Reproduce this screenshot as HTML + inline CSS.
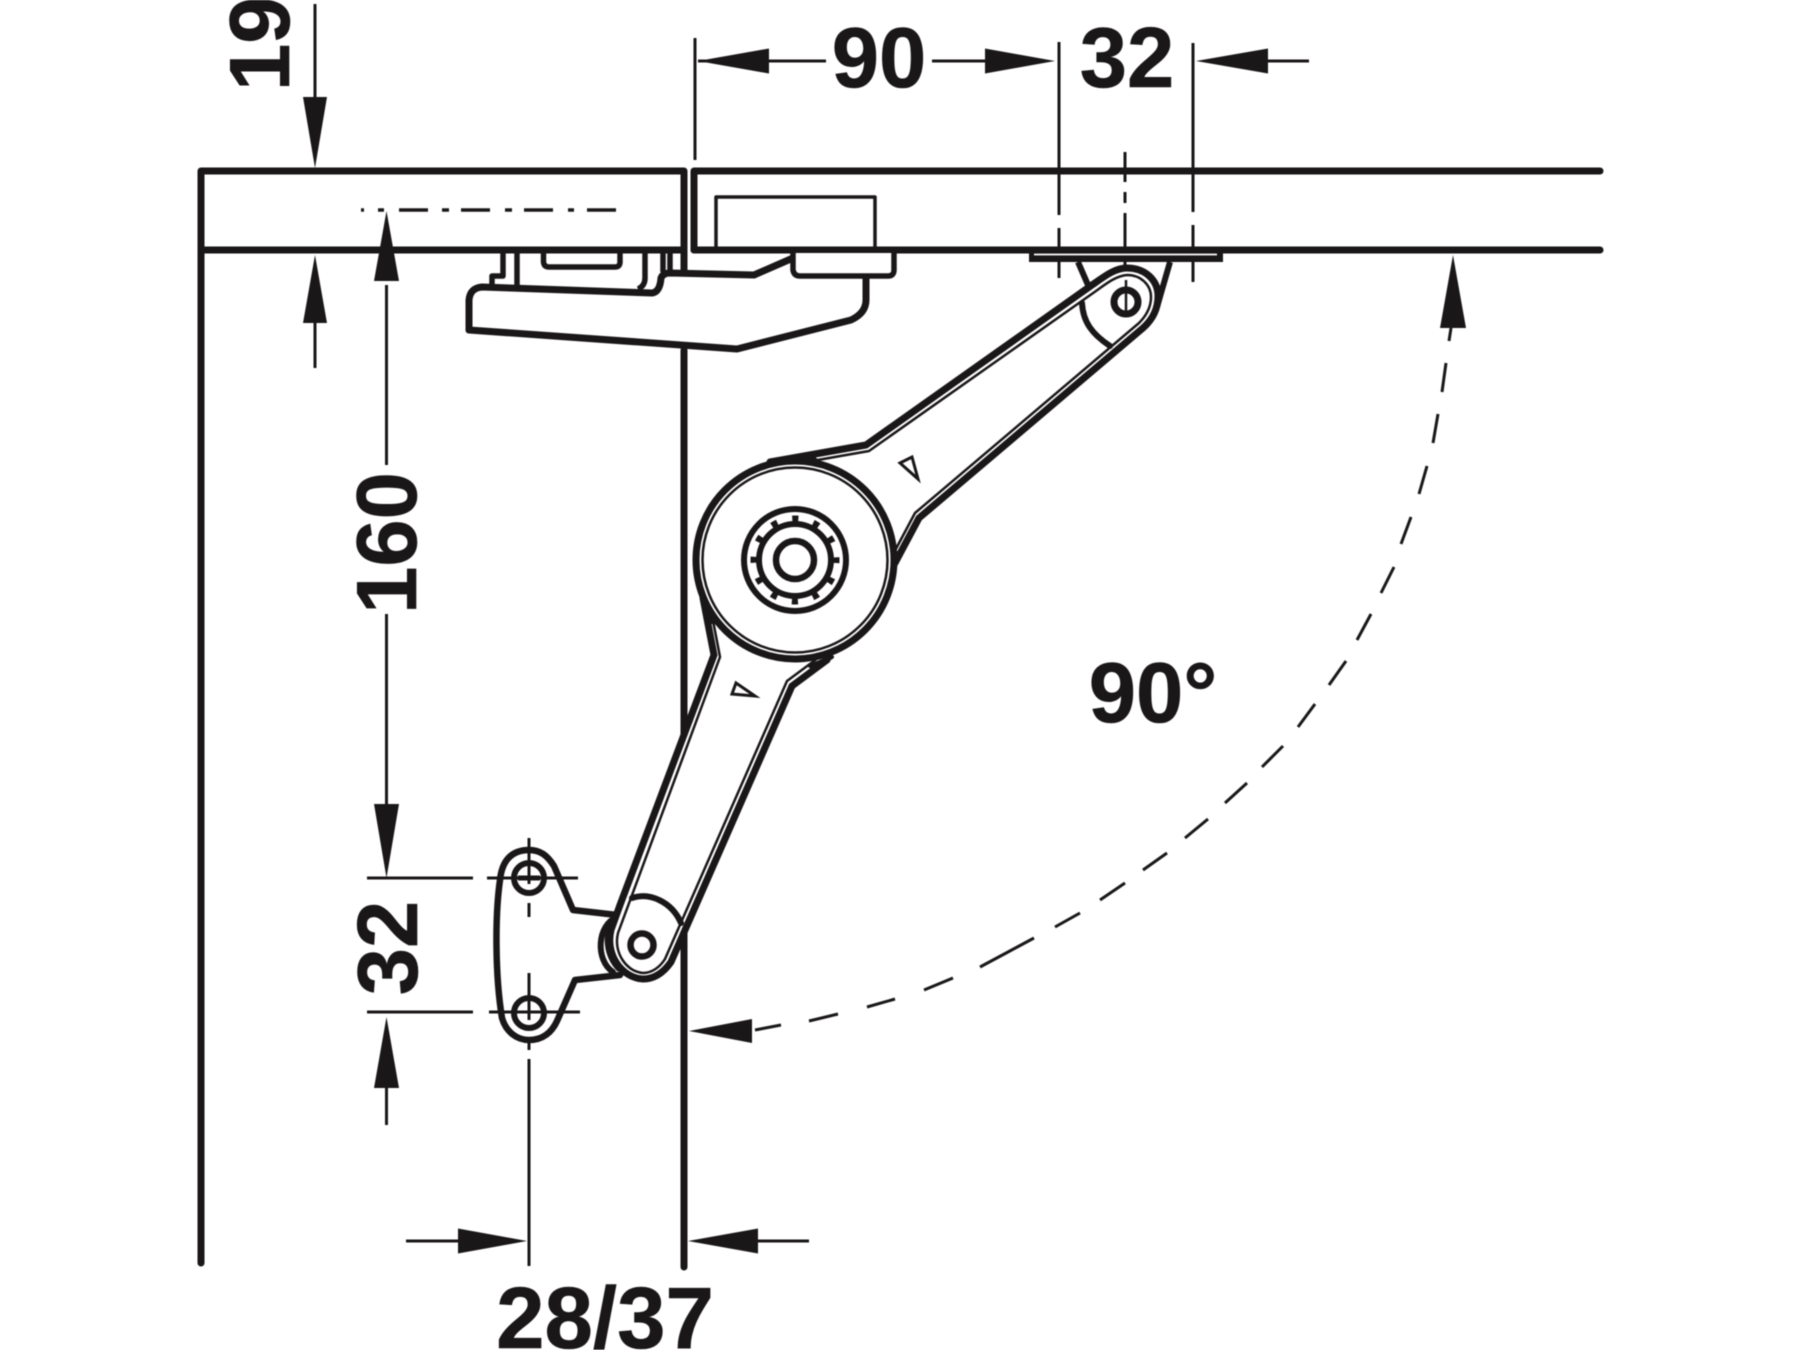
<!DOCTYPE html>
<html><head><meta charset="utf-8"><style>
html,body{margin:0;padding:0;background:#fff;width:1800px;height:1350px;overflow:hidden}
svg{display:block;filter:blur(0.5px)}
text{font-family:"Liberation Sans",Arial,sans-serif;font-weight:bold;font-size:85px;fill:#1a1718;stroke:#1a1718;stroke-width:0.6px}
</style></head><body>
<svg width="1800" height="1350" viewBox="0 0 1800 1350" xmlns="http://www.w3.org/2000/svg">
<rect width="1800" height="1350" fill="#fff"/>
<g fill="none" stroke="#1a1718" stroke-width="7" stroke-linecap="round" stroke-linejoin="round">
 <!-- panels -->
 <path d="M201 1263V171H684V272"/>
 <path d="M201 250H684"/>
 <path d="M684 350V1267"/>
 <path d="M694 250V171H1600"/>
 <path d="M694 250H1600"/>
 <path d="M716 250V197H875V250" stroke-width="3.500" stroke-linecap="butt"/>
 <!-- extension and dim thin lines -->
 <g stroke-width="3" stroke-linecap="butt">
  <path d="M315 4V100M315 320V368"/>
  <path d="M386.500 285V465M386.500 614V808M386.500 1085V1125"/>
  <path d="M695 38V160M698 61H826M932 61H990M1059 42V215M1059 228V278M1193 43V212M1193 225V282M1262 61H1309"/>
  <path d="M1125 152V182M1125 192V203M1125 213V253M1125 262V268"/>
  <path d="M367 878H473M367 1012H473"/>
  <path d="M529 1043V1050M529 1059V1266"/>
  <path d="M406 1241H465M750 1241H809"/>
 </g>
 <!-- centre line -->
 <path d="M399 210H428M442 210H449M461 210H490M505 210H512M524 210H553M568 210H574M587 210H616M361 210H364M378 210H384" stroke-width="3.500" stroke-linecap="butt"/>
 <!-- angle arc dashes -->
 <path stroke-width="3" stroke-linecap="butt" d="M755 1030L781 1025M809 1021L838 1014M867 1007L895 999M924 990L953 978M980 967L1008 952M1008 952L1034 938M1055 927L1080 913M1100 900L1125 883M1143 870L1167 853M1185 838L1208 819M1225 803L1247 783M1262 767L1283 746M1298 727L1315 704M1329 685L1346 661M1357 640L1371 614M1381 593L1394 567M1401 544L1411 517M1419 494L1427 466M1433 443L1438 414M1442 392L1446 363M1449 341L1451 328"/>
</g>
<!-- arrowheads -->
<g fill="#1a1718">
 <path d="M315 168L303 97H327Z"/>
 <path d="M315 255L303 323H327Z"/>
 <path d="M386.500 211L374 281H399Z"/>
 <path d="M386.500 878L374 804H399Z"/>
 <path d="M386.500 1017L374 1088H399Z"/>
 <path d="M698 61L769 48.500V73.500Z"/>
 <path d="M1055 61L985 48.500V73.500Z"/>
 <path d="M1196 61L1268 48.500V73.500Z"/>
 <path d="M527 1241L458 1228.500V1253.500Z"/>
 <path d="M688 1241L758 1228.500V1253.500Z"/>
 <path d="M689 1031L752 1019V1043Z"/>
 <path d="M1453 255L1440 328H1466Z"/>
</g>
<g fill="none" stroke="#1a1718" stroke-linejoin="round" stroke-linecap="round">
 <!-- upper left hardware -->
 <path d="M469 330V300Q470 288 482 287L652 293Q660 292 661 278Q663 273 670 273L754 275L793 258" stroke-width="7" fill="#fff"/>
 <path d="M866 278V300Q866 313 851 320L737 349L469 330" stroke-width="7"/>
 <path d="M793 253V270Q794 276 800 276H888Q894 276 894 270V253" stroke-width="5.500" fill="#fff"/>
 <path d="M503 252V276H492V284M517 252V288M645 253V278Q645 286 638 289M663 253V272M670 253V272" stroke-width="5.500" stroke-linecap="butt"/>
 <path d="M543.500 252V262Q544 267 549 267H615Q620 267 620 262V252" stroke-width="5.500"/>
 <!-- top plate -->
 <path d="M1029 248H1223V262H1029Z" fill="#1a1718" stroke="none"/>
 <path d="M1034 254.500H1217" stroke="#fff" stroke-width="1.800" stroke-linecap="butt"/>
 <path d="M1078 262L1088 285M1170 262L1157 307" stroke-width="6" stroke-linecap="butt"/>
 <!-- wall bracket -->
 <path d="M617 915L573 910L554 866C547 855 540 850 529 850C512 850 502 860 500 880C495 915 495 975 502 1018C506 1032 517 1040 529 1040C543 1040 552 1032 557 1021L575 980L620 975" stroke-width="6.500" fill="#fff"/>
 <path d="M529 838V884M529 903V917M529 973V1020" stroke-width="3" stroke-linecap="butt"/>
 <path d="M487 878H578M489 1012H580" stroke-width="3" stroke-linecap="butt"/>
 <circle cx="529" cy="878" r="15" stroke-width="6"/>
 <circle cx="529" cy="1013" r="15" stroke-width="6"/>
 <path d="M518 878H540" stroke-width="5" stroke-linecap="butt"/>
 <!-- arcs behind the lower arm -->
 <path d="M617 917C597 925 595 960 613 972" stroke-width="6"/>
 <path d="M610 923C604 935 604 955 618 970" stroke-width="3"/>
 <!-- upper arm -->
 <path d="M770 462L866 445L1092 285C1105 276 1115 268 1127 268C1145 268 1158 280 1158 296C1158 310 1152 320 1143 328L919 518L895 563" fill="#fff" stroke-width="7"/>
 <path d="M772 468L869 451L1096 291C1107 283 1116 276 1127 275C1141 275 1151 285 1151 297C1151 308 1146 316 1139 323L915 513L890 560" stroke-width="2.500"/>
 <!-- lower arm -->
 <path d="M703 598L714 655L620 905L611 930C605 955 622 978 643 979C655 979 664 972 671 962L792 686L827 660" fill="#fff" stroke-width="7"/>
 <path d="M709 600L720 657L618 933C613 953 627 972 643 973C652 973 660 967 665 959L787 681L822 655" stroke-width="2.500"/>
 <!-- arc over the arm end -->
 <path d="M632 898C650 892 672 902 681 923" stroke-width="6"/>
 <!-- upper pivot -->
 <path d="M1082 303C1083 322 1092 334 1110 346" stroke-width="6"/>
 <path d="M1126 280V311" stroke-width="2.500" stroke-linecap="butt"/>
 <circle cx="1126" cy="302" r="12" stroke-width="7"/>
 <!-- lower pivot -->
 <circle cx="642" cy="945" r="11.500" stroke-width="6.500"/>
 <!-- direction marks -->
 <path d="M900 463L912 457L918 479Z" stroke-width="3" stroke-linejoin="miter"/>
 <path d="M732 694L736 683L755 696Z" stroke-width="3" stroke-linejoin="miter"/>
 <!-- hub wedges -->
 <path d="M755 468L813 455L822 463L780 470Z" fill="#1a1718" stroke="none"/>
 <path d="M698 588L706 630L718 618Z" fill="#1a1718" stroke="none"/>
 <path d="M815 668L832 657L810 666Z" fill="#1a1718" stroke="#1a1718" stroke-width="4"/>
 <path d="M888 590L897 555L892 585Z" fill="#1a1718" stroke="#1a1718" stroke-width="4"/>
 <!-- hub -->
 <circle cx="795" cy="560" r="99" fill="#fff" stroke-width="7"/>
 <circle cx="795" cy="560" r="92.500" stroke-width="2.500"/>
 <circle cx="795" cy="560" r="51" stroke-width="6"/>
 <circle cx="795" cy="560" r="36" stroke-width="6"/>
 <circle cx="795" cy="560" r="40" stroke-width="9" stroke-dasharray="6 14.944" stroke-dashoffset="3" stroke-linecap="butt"/>
 <circle cx="795" cy="560" r="19" stroke-width="6.500"/>
</g>
<!-- labels -->
<text x="879" y="87" text-anchor="middle">90</text>
<text x="1127" y="87" text-anchor="middle">32</text>
<text transform="translate(289 91) rotate(-90)">19</text>
<text transform="translate(416 543) rotate(-90)" text-anchor="middle">160</text>
<text transform="translate(417 948) rotate(-90)" text-anchor="middle">32</text>
<text x="605" y="1348" text-anchor="middle" style="font-size:87px">28/37</text>
<text x="1153" y="722" text-anchor="middle">90°</text>
</svg>
</body></html>
